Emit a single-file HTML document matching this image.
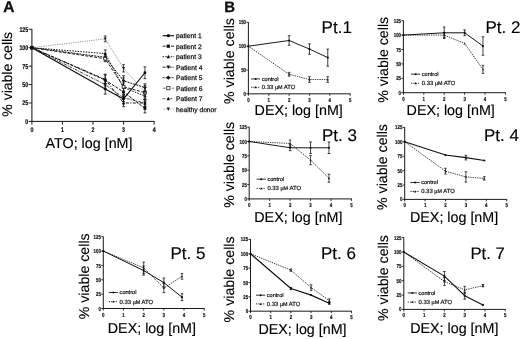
<!DOCTYPE html>
<html><head><meta charset="utf-8"><title>Figure</title>
<style>
html,body{margin:0;padding:0;background:#fff;}
body{width:520px;height:339px;overflow:hidden;font-family:"Liberation Sans",sans-serif;}
svg{display:block;}
</style></head><body>
<svg width="520" height="339" viewBox="0 0 520 339" font-family="Liberation Sans, sans-serif" text-rendering="geometricPrecision">
<rect width="520" height="339" fill="#fff"/>
<g filter="url(#b)">
<text x="3.30" y="12.10" font-size="15.5" text-anchor="start" font-weight="bold" fill="#111"  stroke="#111" stroke-width="0.3">A</text>
<line x1="31.90" y1="121.90" x2="31.90" y2="28.98" stroke="#111" stroke-width="1.0" />
<line x1="31.40" y1="121.40" x2="154.50" y2="121.40" stroke="#111" stroke-width="1.0" />
<line x1="28.60" y1="121.40" x2="31.90" y2="121.40" stroke="#111" stroke-width="0.9" />
<text x="28.25" y="123.85" font-size="6.8" text-anchor="end" font-weight="bold" fill="#111" textLength="2.95" lengthAdjust="spacingAndGlyphs" stroke="#111" stroke-width="0.2">0</text>
<line x1="28.60" y1="102.98" x2="31.90" y2="102.98" stroke="#111" stroke-width="0.9" />
<text x="28.25" y="105.42" font-size="6.8" text-anchor="end" font-weight="bold" fill="#111" textLength="5.90" lengthAdjust="spacingAndGlyphs" stroke="#111" stroke-width="0.2">25</text>
<line x1="28.60" y1="84.55" x2="31.90" y2="84.55" stroke="#111" stroke-width="0.9" />
<text x="28.25" y="87.00" font-size="6.8" text-anchor="end" font-weight="bold" fill="#111" textLength="5.90" lengthAdjust="spacingAndGlyphs" stroke="#111" stroke-width="0.2">50</text>
<line x1="28.60" y1="66.12" x2="31.90" y2="66.12" stroke="#111" stroke-width="0.9" />
<text x="28.25" y="68.57" font-size="6.8" text-anchor="end" font-weight="bold" fill="#111" textLength="5.90" lengthAdjust="spacingAndGlyphs" stroke="#111" stroke-width="0.2">75</text>
<line x1="28.60" y1="47.70" x2="31.90" y2="47.70" stroke="#111" stroke-width="0.9" />
<text x="28.25" y="50.15" font-size="6.8" text-anchor="end" font-weight="bold" fill="#111" textLength="8.85" lengthAdjust="spacingAndGlyphs" stroke="#111" stroke-width="0.2">100</text>
<line x1="28.60" y1="29.28" x2="31.90" y2="29.28" stroke="#111" stroke-width="0.9" />
<text x="28.25" y="31.72" font-size="6.8" text-anchor="end" font-weight="bold" fill="#111" textLength="8.85" lengthAdjust="spacingAndGlyphs" stroke="#111" stroke-width="0.2">125</text>
<line x1="31.90" y1="121.40" x2="31.90" y2="124.70" stroke="#111" stroke-width="0.9" />
<text x="31.90" y="131.80" font-size="6.8" text-anchor="middle" font-weight="bold" fill="#111" textLength="2.95" lengthAdjust="spacingAndGlyphs" stroke="#111" stroke-width="0.2">0</text>
<line x1="62.45" y1="121.40" x2="62.45" y2="124.70" stroke="#111" stroke-width="0.9" />
<text x="62.45" y="131.80" font-size="6.8" text-anchor="middle" font-weight="bold" fill="#111" textLength="2.95" lengthAdjust="spacingAndGlyphs" stroke="#111" stroke-width="0.2">1</text>
<line x1="93.00" y1="121.40" x2="93.00" y2="124.70" stroke="#111" stroke-width="0.9" />
<text x="93.00" y="131.80" font-size="6.8" text-anchor="middle" font-weight="bold" fill="#111" textLength="2.95" lengthAdjust="spacingAndGlyphs" stroke="#111" stroke-width="0.2">2</text>
<line x1="123.55" y1="121.40" x2="123.55" y2="124.70" stroke="#111" stroke-width="0.9" />
<text x="123.55" y="131.80" font-size="6.8" text-anchor="middle" font-weight="bold" fill="#111" textLength="2.95" lengthAdjust="spacingAndGlyphs" stroke="#111" stroke-width="0.2">3</text>
<line x1="154.10" y1="121.40" x2="154.10" y2="124.70" stroke="#111" stroke-width="0.9" />
<text x="154.10" y="131.80" font-size="6.8" text-anchor="middle" font-weight="bold" fill="#111" textLength="2.95" lengthAdjust="spacingAndGlyphs" stroke="#111" stroke-width="0.2">4</text>
<polyline points="31.90,47.70 105.22,88.97 123.55,98.92 144.94,72.76" fill="none" stroke="#111" stroke-width="1.1" stroke-linejoin="round"/>
<line x1="105.22" y1="83.81" x2="105.22" y2="94.13" stroke="#111" stroke-width="0.8" />
<line x1="103.82" y1="83.81" x2="106.62" y2="83.81" stroke="#111" stroke-width="0.8" />
<line x1="103.82" y1="94.13" x2="106.62" y2="94.13" stroke="#111" stroke-width="0.8" />
<line x1="123.55" y1="94.50" x2="123.55" y2="103.34" stroke="#111" stroke-width="0.8" />
<line x1="122.15" y1="94.50" x2="124.95" y2="94.50" stroke="#111" stroke-width="0.8" />
<line x1="122.15" y1="103.34" x2="124.95" y2="103.34" stroke="#111" stroke-width="0.8" />
<line x1="144.94" y1="66.86" x2="144.94" y2="78.65" stroke="#111" stroke-width="0.8" />
<line x1="143.53" y1="66.86" x2="146.34" y2="66.86" stroke="#111" stroke-width="0.8" />
<line x1="143.53" y1="78.65" x2="146.34" y2="78.65" stroke="#111" stroke-width="0.8" />
<circle cx="31.90" cy="47.70" r="1.4" fill="#111"/>
<circle cx="105.22" cy="88.97" r="1.4" fill="#111"/>
<circle cx="123.55" cy="98.92" r="1.4" fill="#111"/>
<circle cx="144.94" cy="72.76" r="1.4" fill="#111"/>
<line x1="162.60" y1="35.70" x2="174.00" y2="35.70" stroke="#111" stroke-width="1.1" />
<circle cx="168.30" cy="35.70" r="1.6" fill="#111"/>
<text x="176.00" y="38.00" font-size="6.7" text-anchor="start" font-weight="normal" fill="#111"  stroke="#111" stroke-width="0.25">patient 1</text>
<polyline points="31.90,47.70 105.22,80.13 123.55,91.92 144.94,108.43" fill="none" stroke="#111" stroke-width="1.0" stroke-dasharray="3 1.2" stroke-linejoin="round"/>
<line x1="105.22" y1="74.23" x2="105.22" y2="86.02" stroke="#111" stroke-width="0.8" />
<line x1="103.82" y1="74.23" x2="106.62" y2="74.23" stroke="#111" stroke-width="0.8" />
<line x1="103.82" y1="86.02" x2="106.62" y2="86.02" stroke="#111" stroke-width="0.8" />
<line x1="123.55" y1="87.50" x2="123.55" y2="96.34" stroke="#111" stroke-width="0.8" />
<line x1="122.15" y1="87.50" x2="124.95" y2="87.50" stroke="#111" stroke-width="0.8" />
<line x1="122.15" y1="96.34" x2="124.95" y2="96.34" stroke="#111" stroke-width="0.8" />
<line x1="144.94" y1="104.01" x2="144.94" y2="112.85" stroke="#111" stroke-width="0.8" />
<line x1="143.53" y1="104.01" x2="146.34" y2="104.01" stroke="#111" stroke-width="0.8" />
<line x1="143.53" y1="112.85" x2="146.34" y2="112.85" stroke="#111" stroke-width="0.8" />
<rect x="30.50" y="46.30" width="2.8" height="2.8" fill="#111"/>
<rect x="103.82" y="78.73" width="2.8" height="2.8" fill="#111"/>
<rect x="122.15" y="90.52" width="2.8" height="2.8" fill="#111"/>
<rect x="143.53" y="107.03" width="2.8" height="2.8" fill="#111"/>
<line x1="162.60" y1="46.20" x2="174.00" y2="46.20" stroke="#111" stroke-width="0.9" stroke-dasharray="3 1.2" />
<rect x="166.70" y="44.60" width="3.2" height="3.2" fill="#111"/>
<text x="176.00" y="48.50" font-size="6.7" text-anchor="start" font-weight="normal" fill="#111"  stroke="#111" stroke-width="0.25">patient 2</text>
<polyline points="31.90,47.70 105.22,53.60 123.55,87.50 144.94,96.05" fill="none" stroke="#111" stroke-width="1.0" stroke-dasharray="1.5 1.2" stroke-linejoin="round"/>
<line x1="105.22" y1="49.91" x2="105.22" y2="57.28" stroke="#111" stroke-width="0.8" />
<line x1="103.82" y1="49.91" x2="106.62" y2="49.91" stroke="#111" stroke-width="0.8" />
<line x1="103.82" y1="57.28" x2="106.62" y2="57.28" stroke="#111" stroke-width="0.8" />
<line x1="123.55" y1="83.08" x2="123.55" y2="91.92" stroke="#111" stroke-width="0.8" />
<line x1="122.15" y1="83.08" x2="124.95" y2="83.08" stroke="#111" stroke-width="0.8" />
<line x1="122.15" y1="91.92" x2="124.95" y2="91.92" stroke="#111" stroke-width="0.8" />
<line x1="144.94" y1="92.36" x2="144.94" y2="99.73" stroke="#111" stroke-width="0.8" />
<line x1="143.53" y1="92.36" x2="146.34" y2="92.36" stroke="#111" stroke-width="0.8" />
<line x1="143.53" y1="99.73" x2="146.34" y2="99.73" stroke="#111" stroke-width="0.8" />
<polygon points="31.90,46.02 30.36,49.10 33.44,49.10" fill="#111"/>
<polygon points="105.22,51.92 103.68,55.00 106.76,55.00" fill="#111"/>
<polygon points="123.55,85.82 122.01,88.90 125.09,88.90" fill="#111"/>
<polygon points="144.94,94.37 143.40,97.45 146.47,97.45" fill="#111"/>
<line x1="162.60" y1="56.70" x2="174.00" y2="56.70" stroke="#111" stroke-width="0.9" stroke-dasharray="1.5 1.2" />
<polygon points="168.30,54.78 166.54,58.30 170.06,58.30" fill="#111"/>
<text x="176.00" y="59.00" font-size="6.7" text-anchor="start" font-weight="normal" fill="#111"  stroke="#111" stroke-width="0.25">patient 3</text>
<polyline points="31.90,47.70 105.22,84.55 123.55,97.82 144.94,102.98" fill="none" stroke="#111" stroke-width="0.8" stroke-dasharray="3 1 1 1" stroke-linejoin="round"/>
<line x1="105.22" y1="80.13" x2="105.22" y2="88.97" stroke="#111" stroke-width="0.8" />
<line x1="103.82" y1="80.13" x2="106.62" y2="80.13" stroke="#111" stroke-width="0.8" />
<line x1="103.82" y1="88.97" x2="106.62" y2="88.97" stroke="#111" stroke-width="0.8" />
<line x1="123.55" y1="94.13" x2="123.55" y2="101.50" stroke="#111" stroke-width="0.8" />
<line x1="122.15" y1="94.13" x2="124.95" y2="94.13" stroke="#111" stroke-width="0.8" />
<line x1="122.15" y1="101.50" x2="124.95" y2="101.50" stroke="#111" stroke-width="0.8" />
<line x1="144.94" y1="99.29" x2="144.94" y2="106.66" stroke="#111" stroke-width="0.8" />
<line x1="143.53" y1="99.29" x2="146.34" y2="99.29" stroke="#111" stroke-width="0.8" />
<line x1="143.53" y1="106.66" x2="146.34" y2="106.66" stroke="#111" stroke-width="0.8" />
<polygon points="31.90,49.38 30.36,46.30 33.44,46.30" fill="#111"/>
<polygon points="105.22,86.23 103.68,83.15 106.76,83.15" fill="#111"/>
<polygon points="123.55,99.50 122.01,96.42 125.09,96.42" fill="#111"/>
<polygon points="144.94,104.66 143.40,101.58 146.47,101.58" fill="#111"/>
<line x1="162.60" y1="67.20" x2="174.00" y2="67.20" stroke="#111" stroke-width="0.9" stroke-dasharray="3 1 1 1" />
<polygon points="168.30,69.12 166.54,65.60 170.06,65.60" fill="#111"/>
<text x="176.00" y="69.50" font-size="6.7" text-anchor="start" font-weight="normal" fill="#111"  stroke="#111" stroke-width="0.25">Patient 4</text>
<polyline points="31.90,47.70 105.22,57.28 123.55,80.87 144.94,87.50" fill="none" stroke="#111" stroke-width="1.0" stroke-dasharray="2 1" stroke-linejoin="round"/>
<line x1="105.22" y1="53.60" x2="105.22" y2="60.97" stroke="#111" stroke-width="0.8" />
<line x1="103.82" y1="53.60" x2="106.62" y2="53.60" stroke="#111" stroke-width="0.8" />
<line x1="103.82" y1="60.97" x2="106.62" y2="60.97" stroke="#111" stroke-width="0.8" />
<line x1="123.55" y1="75.71" x2="123.55" y2="86.02" stroke="#111" stroke-width="0.8" />
<line x1="122.15" y1="75.71" x2="124.95" y2="75.71" stroke="#111" stroke-width="0.8" />
<line x1="122.15" y1="86.02" x2="124.95" y2="86.02" stroke="#111" stroke-width="0.8" />
<line x1="144.94" y1="83.81" x2="144.94" y2="91.18" stroke="#111" stroke-width="0.8" />
<line x1="143.53" y1="83.81" x2="146.34" y2="83.81" stroke="#111" stroke-width="0.8" />
<line x1="143.53" y1="91.18" x2="146.34" y2="91.18" stroke="#111" stroke-width="0.8" />
<polygon points="31.90,45.88 30.08,47.70 31.90,49.52 33.72,47.70" fill="#111"/>
<polygon points="105.22,55.46 103.40,57.28 105.22,59.10 107.04,57.28" fill="#111"/>
<polygon points="123.55,79.05 121.73,80.87 123.55,82.69 125.37,80.87" fill="#111"/>
<polygon points="144.94,85.68 143.12,87.50 144.94,89.32 146.75,87.50" fill="#111"/>
<line x1="162.60" y1="77.70" x2="174.00" y2="77.70" stroke="#111" stroke-width="0.9" stroke-dasharray="2 1" />
<polygon points="168.30,75.62 166.22,77.70 168.30,79.78 170.38,77.70" fill="#111"/>
<text x="176.00" y="80.00" font-size="6.7" text-anchor="start" font-weight="normal" fill="#111"  stroke="#111" stroke-width="0.25">Patient 5</text>
<polyline points="31.90,47.70 105.22,58.76 123.55,86.76 144.94,92.66" fill="none" stroke="#222" stroke-width="1.0" stroke-dasharray="3 1.5" stroke-linejoin="round"/>
<line x1="105.22" y1="55.81" x2="105.22" y2="61.70" stroke="#222" stroke-width="0.8" />
<line x1="103.82" y1="55.81" x2="106.62" y2="55.81" stroke="#222" stroke-width="0.8" />
<line x1="103.82" y1="61.70" x2="106.62" y2="61.70" stroke="#222" stroke-width="0.8" />
<line x1="123.55" y1="77.92" x2="123.55" y2="95.60" stroke="#222" stroke-width="0.8" />
<line x1="122.15" y1="77.92" x2="124.95" y2="77.92" stroke="#222" stroke-width="0.8" />
<line x1="122.15" y1="95.60" x2="124.95" y2="95.60" stroke="#222" stroke-width="0.8" />
<line x1="144.94" y1="85.29" x2="144.94" y2="100.03" stroke="#222" stroke-width="0.8" />
<line x1="143.53" y1="85.29" x2="146.34" y2="85.29" stroke="#222" stroke-width="0.8" />
<line x1="143.53" y1="100.03" x2="146.34" y2="100.03" stroke="#222" stroke-width="0.8" />
<rect x="30.50" y="46.30" width="2.8" height="2.8" fill="#fff" stroke="#222" stroke-width="0.8"/>
<rect x="103.82" y="57.36" width="2.8" height="2.8" fill="#fff" stroke="#222" stroke-width="0.8"/>
<rect x="122.15" y="85.36" width="2.8" height="2.8" fill="#fff" stroke="#222" stroke-width="0.8"/>
<rect x="143.53" y="91.26" width="2.8" height="2.8" fill="#fff" stroke="#222" stroke-width="0.8"/>
<line x1="162.60" y1="88.20" x2="174.00" y2="88.20" stroke="#222" stroke-width="0.6" stroke-dasharray="3 1.5" />
<rect x="166.70" y="86.60" width="3.2" height="3.2" fill="#fff" stroke="#222" stroke-width="0.8"/>
<text x="176.00" y="90.50" font-size="6.7" text-anchor="start" font-weight="normal" fill="#111"  stroke="#111" stroke-width="0.25">Patient 6</text>
<polyline points="31.90,47.70 105.22,79.39 123.55,102.98 144.94,102.98" fill="none" stroke="#111" stroke-width="1.0" stroke-dasharray="3 1.5 1 1.5" stroke-linejoin="round"/>
<line x1="105.22" y1="74.97" x2="105.22" y2="83.81" stroke="#111" stroke-width="0.8" />
<line x1="103.82" y1="74.97" x2="106.62" y2="74.97" stroke="#111" stroke-width="0.8" />
<line x1="103.82" y1="83.81" x2="106.62" y2="83.81" stroke="#111" stroke-width="0.8" />
<line x1="123.55" y1="99.29" x2="123.55" y2="106.66" stroke="#111" stroke-width="0.8" />
<line x1="122.15" y1="99.29" x2="124.95" y2="99.29" stroke="#111" stroke-width="0.8" />
<line x1="122.15" y1="106.66" x2="124.95" y2="106.66" stroke="#111" stroke-width="0.8" />
<line x1="144.94" y1="99.29" x2="144.94" y2="106.66" stroke="#111" stroke-width="0.8" />
<line x1="143.53" y1="99.29" x2="146.34" y2="99.29" stroke="#111" stroke-width="0.8" />
<line x1="143.53" y1="106.66" x2="146.34" y2="106.66" stroke="#111" stroke-width="0.8" />
<polygon points="31.90,46.02 30.36,49.10 33.44,49.10" fill="#111"/>
<polygon points="105.22,77.71 103.68,80.79 106.76,80.79" fill="#111"/>
<polygon points="123.55,101.30 122.01,104.38 125.09,104.38" fill="#111"/>
<polygon points="144.94,101.30 143.40,104.38 146.47,104.38" fill="#111"/>
<line x1="162.60" y1="98.70" x2="174.00" y2="98.70" stroke="#111" stroke-width="0.6" stroke-dasharray="3 1.5 1 1.5" />
<polygon points="168.30,96.78 166.54,100.30 170.06,100.30" fill="#111"/>
<text x="176.00" y="101.00" font-size="6.7" text-anchor="start" font-weight="normal" fill="#111"  stroke="#111" stroke-width="0.25">Patient 7</text>
<polyline points="31.90,47.70 105.22,38.86 123.55,68.34 144.94,91.92" fill="none" stroke="#666" stroke-width="0.8" stroke-dasharray="0.8 1" stroke-linejoin="round"/>
<line x1="105.22" y1="35.91" x2="105.22" y2="41.80" stroke="#222" stroke-width="0.8" />
<line x1="103.82" y1="35.91" x2="106.62" y2="35.91" stroke="#222" stroke-width="0.8" />
<line x1="103.82" y1="41.80" x2="106.62" y2="41.80" stroke="#222" stroke-width="0.8" />
<line x1="123.55" y1="64.65" x2="123.55" y2="72.02" stroke="#222" stroke-width="0.8" />
<line x1="122.15" y1="64.65" x2="124.95" y2="64.65" stroke="#222" stroke-width="0.8" />
<line x1="122.15" y1="72.02" x2="124.95" y2="72.02" stroke="#222" stroke-width="0.8" />
<line x1="144.94" y1="87.50" x2="144.94" y2="96.34" stroke="#222" stroke-width="0.8" />
<line x1="143.53" y1="87.50" x2="146.34" y2="87.50" stroke="#222" stroke-width="0.8" />
<line x1="143.53" y1="96.34" x2="146.34" y2="96.34" stroke="#222" stroke-width="0.8" />
<polygon points="31.90,49.38 30.36,46.30 33.44,46.30" fill="#222"/>
<polygon points="105.22,40.54 103.68,37.46 106.76,37.46" fill="#222"/>
<polygon points="123.55,70.02 122.01,66.94 125.09,66.94" fill="#222"/>
<polygon points="144.94,93.60 143.40,90.52 146.47,90.52" fill="#222"/>
<line x1="162.60" y1="109.20" x2="174.00" y2="109.20" stroke="#666" stroke-width="0.6" stroke-dasharray="0.8 1" />
<polygon points="168.30,111.12 166.54,107.60 170.06,107.60" fill="#222"/>
<text x="176.00" y="111.50" font-size="6.7" text-anchor="start" font-weight="normal" fill="#111"  stroke="#111" stroke-width="0.25">healthy donor</text>
<circle cx="31.90" cy="47.70" r="1.9" fill="#111"/>
<text x="12.50" y="116.70" font-size="14" text-anchor="start" font-weight="normal" fill="#000" transform="rotate(-90 12.50 116.70)"  stroke="#000" stroke-width="0.12">% viable cells</text>
<text x="45.60" y="148.00" font-size="14.3" text-anchor="start" font-weight="normal" fill="#000"  stroke="#000" stroke-width="0.15">ATO; log [nM]</text>
<text x="224.20" y="12.00" font-size="15" text-anchor="start" font-weight="bold" fill="#111"  stroke="#111" stroke-width="0.3">B</text>
<line x1="248.40" y1="94.30" x2="248.40" y2="22.10" stroke="#111" stroke-width="0.95" />
<line x1="247.90" y1="93.80" x2="350.55" y2="93.80" stroke="#111" stroke-width="0.95" />
<line x1="246.40" y1="93.80" x2="248.40" y2="93.80" stroke="#111" stroke-width="0.855" />
<text x="246.05" y="95.89" font-size="5.8" text-anchor="end" font-weight="bold" fill="#111" textLength="2.45" lengthAdjust="spacingAndGlyphs" stroke="#111" stroke-width="0.2">0</text>
<line x1="246.40" y1="70.00" x2="248.40" y2="70.00" stroke="#111" stroke-width="0.855" />
<text x="246.05" y="72.09" font-size="5.8" text-anchor="end" font-weight="bold" fill="#111" textLength="4.90" lengthAdjust="spacingAndGlyphs" stroke="#111" stroke-width="0.2">50</text>
<line x1="246.40" y1="46.20" x2="248.40" y2="46.20" stroke="#111" stroke-width="0.855" />
<text x="246.05" y="48.29" font-size="5.8" text-anchor="end" font-weight="bold" fill="#111" textLength="7.35" lengthAdjust="spacingAndGlyphs" stroke="#111" stroke-width="0.2">100</text>
<line x1="246.40" y1="22.40" x2="248.40" y2="22.40" stroke="#111" stroke-width="0.855" />
<text x="246.05" y="24.49" font-size="5.8" text-anchor="end" font-weight="bold" fill="#111" textLength="7.35" lengthAdjust="spacingAndGlyphs" stroke="#111" stroke-width="0.2">150</text>
<line x1="248.40" y1="93.80" x2="248.40" y2="95.80" stroke="#111" stroke-width="0.855" />
<text x="248.40" y="101.80" font-size="5.8" text-anchor="middle" font-weight="bold" fill="#111" textLength="2.45" lengthAdjust="spacingAndGlyphs" stroke="#111" stroke-width="0.2">0</text>
<line x1="268.75" y1="93.80" x2="268.75" y2="95.80" stroke="#111" stroke-width="0.855" />
<text x="268.75" y="101.80" font-size="5.8" text-anchor="middle" font-weight="bold" fill="#111" textLength="2.45" lengthAdjust="spacingAndGlyphs" stroke="#111" stroke-width="0.2">1</text>
<line x1="289.10" y1="93.80" x2="289.10" y2="95.80" stroke="#111" stroke-width="0.855" />
<text x="289.10" y="101.80" font-size="5.8" text-anchor="middle" font-weight="bold" fill="#111" textLength="2.45" lengthAdjust="spacingAndGlyphs" stroke="#111" stroke-width="0.2">2</text>
<line x1="309.45" y1="93.80" x2="309.45" y2="95.80" stroke="#111" stroke-width="0.855" />
<text x="309.45" y="101.80" font-size="5.8" text-anchor="middle" font-weight="bold" fill="#111" textLength="2.45" lengthAdjust="spacingAndGlyphs" stroke="#111" stroke-width="0.2">3</text>
<line x1="329.80" y1="93.80" x2="329.80" y2="95.80" stroke="#111" stroke-width="0.855" />
<text x="329.80" y="101.80" font-size="5.8" text-anchor="middle" font-weight="bold" fill="#111" textLength="2.45" lengthAdjust="spacingAndGlyphs" stroke="#111" stroke-width="0.2">4</text>
<line x1="350.15" y1="93.80" x2="350.15" y2="95.80" stroke="#111" stroke-width="0.855" />
<text x="350.15" y="101.80" font-size="5.8" text-anchor="middle" font-weight="bold" fill="#111" textLength="2.45" lengthAdjust="spacingAndGlyphs" stroke="#111" stroke-width="0.2">5</text>
<polyline points="248.40,46.20 289.10,74.28 309.45,79.52 327.76,79.52" fill="none" stroke="#222" stroke-width="0.9" stroke-dasharray="1.3 1" stroke-linejoin="round"/>
<line x1="289.10" y1="72.38" x2="289.10" y2="76.19" stroke="#222" stroke-width="0.8" />
<line x1="287.80" y1="72.38" x2="290.40" y2="72.38" stroke="#222" stroke-width="0.8" />
<line x1="287.80" y1="76.19" x2="290.40" y2="76.19" stroke="#222" stroke-width="0.8" />
<line x1="309.45" y1="76.66" x2="309.45" y2="82.38" stroke="#222" stroke-width="0.8" />
<line x1="308.15" y1="76.66" x2="310.75" y2="76.66" stroke="#222" stroke-width="0.8" />
<line x1="308.15" y1="82.38" x2="310.75" y2="82.38" stroke="#222" stroke-width="0.8" />
<line x1="327.76" y1="76.66" x2="327.76" y2="82.38" stroke="#222" stroke-width="0.8" />
<line x1="326.46" y1="76.66" x2="329.06" y2="76.66" stroke="#222" stroke-width="0.8" />
<line x1="326.46" y1="82.38" x2="329.06" y2="82.38" stroke="#222" stroke-width="0.8" />
<polygon points="248.40,45.00 247.30,47.20 249.50,47.20" fill="#222"/>
<polygon points="289.10,73.08 288.00,75.28 290.20,75.28" fill="#222"/>
<polygon points="309.45,78.32 308.35,80.52 310.55,80.52" fill="#222"/>
<polygon points="327.76,78.32 326.66,80.52 328.87,80.52" fill="#222"/>
<polyline points="248.40,46.20 289.10,40.49 309.45,49.06 327.76,57.62" fill="none" stroke="#111" stroke-width="0.95" stroke-linejoin="round"/>
<line x1="289.10" y1="35.73" x2="289.10" y2="45.25" stroke="#111" stroke-width="0.8" />
<line x1="287.80" y1="35.73" x2="290.40" y2="35.73" stroke="#111" stroke-width="0.8" />
<line x1="287.80" y1="45.25" x2="290.40" y2="45.25" stroke="#111" stroke-width="0.8" />
<line x1="309.45" y1="43.82" x2="309.45" y2="54.29" stroke="#111" stroke-width="0.8" />
<line x1="308.15" y1="43.82" x2="310.75" y2="43.82" stroke="#111" stroke-width="0.8" />
<line x1="308.15" y1="54.29" x2="310.75" y2="54.29" stroke="#111" stroke-width="0.8" />
<line x1="327.76" y1="49.06" x2="327.76" y2="66.19" stroke="#111" stroke-width="0.8" />
<line x1="326.46" y1="49.06" x2="329.06" y2="49.06" stroke="#111" stroke-width="0.8" />
<line x1="326.46" y1="66.19" x2="329.06" y2="66.19" stroke="#111" stroke-width="0.8" />
<circle cx="248.40" cy="46.20" r="1.1" fill="#111"/>
<circle cx="289.10" cy="40.49" r="1.1" fill="#111"/>
<circle cx="309.45" cy="49.06" r="1.1" fill="#111"/>
<circle cx="327.76" cy="57.62" r="1.1" fill="#111"/>
<text x="321.60" y="33.00" font-size="17" text-anchor="start" font-weight="normal" fill="#000"  stroke="#000" stroke-width="0.15">Pt.1</text>
<line x1="251.00" y1="78.90" x2="260.20" y2="78.90" stroke="#111" stroke-width="0.85" />
<circle cx="255.60" cy="78.90" r="1.0" fill="#111"/>
<text x="261.80" y="80.80" font-size="5.6" text-anchor="start" font-weight="normal" fill="#111"  stroke="#111" stroke-width="0.2">control</text>
<line x1="251.00" y1="87.30" x2="260.20" y2="87.30" stroke="#222" stroke-width="0.9" stroke-dasharray="1.3 1" />
<polygon points="255.60,86.10 254.50,88.30 256.70,88.30" fill="#111"/>
<text x="261.80" y="89.20" font-size="5.9" text-anchor="start" font-weight="normal" fill="#111"  stroke="#111" stroke-width="0.2">0.33 <tspan font-size="5.4">µM</tspan> ATO</text>
<text x="233.50" y="104.00" font-size="14.2" text-anchor="start" font-weight="normal" fill="#000" transform="rotate(-90 233.50 104.00)"  stroke="#000" stroke-width="0.12">% viable cells</text>
<text x="254.60" y="114.80" font-size="14.3" text-anchor="start" font-weight="normal" fill="#000"  stroke="#000" stroke-width="0.15">DEX; log [nM]</text>
<line x1="403.40" y1="93.20" x2="403.40" y2="20.40" stroke="#111" stroke-width="0.95" />
<line x1="402.90" y1="92.70" x2="505.80" y2="92.70" stroke="#111" stroke-width="0.95" />
<line x1="401.40" y1="92.70" x2="403.40" y2="92.70" stroke="#111" stroke-width="0.855" />
<text x="401.05" y="94.79" font-size="5.8" text-anchor="end" font-weight="bold" fill="#111" textLength="2.45" lengthAdjust="spacingAndGlyphs" stroke="#111" stroke-width="0.2">0</text>
<line x1="401.40" y1="78.30" x2="403.40" y2="78.30" stroke="#111" stroke-width="0.855" />
<text x="401.05" y="80.39" font-size="5.8" text-anchor="end" font-weight="bold" fill="#111" textLength="4.90" lengthAdjust="spacingAndGlyphs" stroke="#111" stroke-width="0.2">25</text>
<line x1="401.40" y1="63.90" x2="403.40" y2="63.90" stroke="#111" stroke-width="0.855" />
<text x="401.05" y="65.99" font-size="5.8" text-anchor="end" font-weight="bold" fill="#111" textLength="4.90" lengthAdjust="spacingAndGlyphs" stroke="#111" stroke-width="0.2">50</text>
<line x1="401.40" y1="49.50" x2="403.40" y2="49.50" stroke="#111" stroke-width="0.855" />
<text x="401.05" y="51.59" font-size="5.8" text-anchor="end" font-weight="bold" fill="#111" textLength="4.90" lengthAdjust="spacingAndGlyphs" stroke="#111" stroke-width="0.2">75</text>
<line x1="401.40" y1="35.10" x2="403.40" y2="35.10" stroke="#111" stroke-width="0.855" />
<text x="401.05" y="37.19" font-size="5.8" text-anchor="end" font-weight="bold" fill="#111" textLength="7.35" lengthAdjust="spacingAndGlyphs" stroke="#111" stroke-width="0.2">100</text>
<line x1="401.40" y1="20.70" x2="403.40" y2="20.70" stroke="#111" stroke-width="0.855" />
<text x="401.05" y="22.79" font-size="5.8" text-anchor="end" font-weight="bold" fill="#111" textLength="7.35" lengthAdjust="spacingAndGlyphs" stroke="#111" stroke-width="0.2">125</text>
<line x1="403.40" y1="92.70" x2="403.40" y2="94.70" stroke="#111" stroke-width="0.855" />
<text x="403.40" y="100.70" font-size="5.8" text-anchor="middle" font-weight="bold" fill="#111" textLength="2.45" lengthAdjust="spacingAndGlyphs" stroke="#111" stroke-width="0.2">0</text>
<line x1="423.80" y1="92.70" x2="423.80" y2="94.70" stroke="#111" stroke-width="0.855" />
<text x="423.80" y="100.70" font-size="5.8" text-anchor="middle" font-weight="bold" fill="#111" textLength="2.45" lengthAdjust="spacingAndGlyphs" stroke="#111" stroke-width="0.2">1</text>
<line x1="444.20" y1="92.70" x2="444.20" y2="94.70" stroke="#111" stroke-width="0.855" />
<text x="444.20" y="100.70" font-size="5.8" text-anchor="middle" font-weight="bold" fill="#111" textLength="2.45" lengthAdjust="spacingAndGlyphs" stroke="#111" stroke-width="0.2">2</text>
<line x1="464.60" y1="92.70" x2="464.60" y2="94.70" stroke="#111" stroke-width="0.855" />
<text x="464.60" y="100.70" font-size="5.8" text-anchor="middle" font-weight="bold" fill="#111" textLength="2.45" lengthAdjust="spacingAndGlyphs" stroke="#111" stroke-width="0.2">3</text>
<line x1="485.00" y1="92.70" x2="485.00" y2="94.70" stroke="#111" stroke-width="0.855" />
<text x="485.00" y="100.70" font-size="5.8" text-anchor="middle" font-weight="bold" fill="#111" textLength="2.45" lengthAdjust="spacingAndGlyphs" stroke="#111" stroke-width="0.2">4</text>
<line x1="505.40" y1="92.70" x2="505.40" y2="94.70" stroke="#111" stroke-width="0.855" />
<text x="505.40" y="100.70" font-size="5.8" text-anchor="middle" font-weight="bold" fill="#111" textLength="2.45" lengthAdjust="spacingAndGlyphs" stroke="#111" stroke-width="0.2">5</text>
<polyline points="403.40,35.10 444.20,35.10 464.60,43.45 482.96,69.37" fill="none" stroke="#222" stroke-width="0.9" stroke-dasharray="1.3 1" stroke-linejoin="round"/>
<line x1="444.20" y1="32.80" x2="444.20" y2="37.40" stroke="#222" stroke-width="0.8" />
<line x1="442.90" y1="32.80" x2="445.50" y2="32.80" stroke="#222" stroke-width="0.8" />
<line x1="442.90" y1="37.40" x2="445.50" y2="37.40" stroke="#222" stroke-width="0.8" />
<line x1="482.96" y1="65.34" x2="482.96" y2="73.40" stroke="#222" stroke-width="0.8" />
<line x1="481.66" y1="65.34" x2="484.26" y2="65.34" stroke="#222" stroke-width="0.8" />
<line x1="481.66" y1="73.40" x2="484.26" y2="73.40" stroke="#222" stroke-width="0.8" />
<polygon points="403.40,33.90 402.30,36.10 404.50,36.10" fill="#222"/>
<polygon points="444.20,33.90 443.10,36.10 445.30,36.10" fill="#222"/>
<polygon points="464.60,42.25 463.50,44.45 465.70,44.45" fill="#222"/>
<polygon points="482.96,68.17 481.86,70.37 484.06,70.37" fill="#222"/>
<polyline points="403.40,35.10 444.20,32.80 464.60,32.80 482.96,46.04" fill="none" stroke="#111" stroke-width="1.0" stroke-linejoin="round"/>
<line x1="444.20" y1="27.04" x2="444.20" y2="38.56" stroke="#111" stroke-width="0.8" />
<line x1="442.90" y1="27.04" x2="445.50" y2="27.04" stroke="#111" stroke-width="0.8" />
<line x1="442.90" y1="38.56" x2="445.50" y2="38.56" stroke="#111" stroke-width="0.8" />
<line x1="464.60" y1="29.92" x2="464.60" y2="35.68" stroke="#111" stroke-width="0.8" />
<line x1="463.30" y1="29.92" x2="465.90" y2="29.92" stroke="#111" stroke-width="0.8" />
<line x1="463.30" y1="35.68" x2="465.90" y2="35.68" stroke="#111" stroke-width="0.8" />
<line x1="482.96" y1="36.83" x2="482.96" y2="55.26" stroke="#111" stroke-width="0.8" />
<line x1="481.66" y1="36.83" x2="484.26" y2="36.83" stroke="#111" stroke-width="0.8" />
<line x1="481.66" y1="55.26" x2="484.26" y2="55.26" stroke="#111" stroke-width="0.8" />
<circle cx="403.40" cy="35.10" r="1.1" fill="#111"/>
<circle cx="444.20" cy="32.80" r="1.1" fill="#111"/>
<circle cx="464.60" cy="32.80" r="1.1" fill="#111"/>
<circle cx="482.96" cy="46.04" r="1.1" fill="#111"/>
<text x="485.40" y="32.90" font-size="17" text-anchor="start" font-weight="normal" fill="#000"  stroke="#000" stroke-width="0.15">Pt. 2</text>
<line x1="411.00" y1="74.20" x2="420.20" y2="74.20" stroke="#111" stroke-width="0.85" />
<circle cx="415.60" cy="74.20" r="1.0" fill="#111"/>
<text x="421.80" y="76.10" font-size="5.6" text-anchor="start" font-weight="normal" fill="#111"  stroke="#111" stroke-width="0.2">control</text>
<line x1="411.00" y1="83.30" x2="420.20" y2="83.30" stroke="#222" stroke-width="0.9" stroke-dasharray="1.3 1" />
<polygon points="415.60,82.10 414.50,84.30 416.70,84.30" fill="#111"/>
<text x="421.80" y="85.20" font-size="5.9" text-anchor="start" font-weight="normal" fill="#111"  stroke="#111" stroke-width="0.2">0.33 <tspan font-size="5.4">µM</tspan> ATO</text>
<text x="387.90" y="102.80" font-size="14.2" text-anchor="start" font-weight="normal" fill="#000" transform="rotate(-90 387.90 102.80)"  stroke="#000" stroke-width="0.12">% viable cells</text>
<text x="406.60" y="114.50" font-size="14.3" text-anchor="start" font-weight="normal" fill="#000"  stroke="#000" stroke-width="0.15">DEX; log [nM]</text>
<line x1="249.20" y1="199.40" x2="249.20" y2="126.79" stroke="#111" stroke-width="0.95" />
<line x1="248.70" y1="198.90" x2="351.85" y2="198.90" stroke="#111" stroke-width="0.95" />
<line x1="247.20" y1="198.90" x2="249.20" y2="198.90" stroke="#111" stroke-width="0.855" />
<text x="246.85" y="200.99" font-size="5.8" text-anchor="end" font-weight="bold" fill="#111" textLength="2.45" lengthAdjust="spacingAndGlyphs" stroke="#111" stroke-width="0.2">0</text>
<line x1="247.20" y1="184.54" x2="249.20" y2="184.54" stroke="#111" stroke-width="0.855" />
<text x="246.85" y="186.63" font-size="5.8" text-anchor="end" font-weight="bold" fill="#111" textLength="4.90" lengthAdjust="spacingAndGlyphs" stroke="#111" stroke-width="0.2">25</text>
<line x1="247.20" y1="170.18" x2="249.20" y2="170.18" stroke="#111" stroke-width="0.855" />
<text x="246.85" y="172.26" font-size="5.8" text-anchor="end" font-weight="bold" fill="#111" textLength="4.90" lengthAdjust="spacingAndGlyphs" stroke="#111" stroke-width="0.2">50</text>
<line x1="247.20" y1="155.81" x2="249.20" y2="155.81" stroke="#111" stroke-width="0.855" />
<text x="246.85" y="157.90" font-size="5.8" text-anchor="end" font-weight="bold" fill="#111" textLength="4.90" lengthAdjust="spacingAndGlyphs" stroke="#111" stroke-width="0.2">75</text>
<line x1="247.20" y1="141.45" x2="249.20" y2="141.45" stroke="#111" stroke-width="0.855" />
<text x="246.85" y="143.54" font-size="5.8" text-anchor="end" font-weight="bold" fill="#111" textLength="7.35" lengthAdjust="spacingAndGlyphs" stroke="#111" stroke-width="0.2">100</text>
<line x1="247.20" y1="127.09" x2="249.20" y2="127.09" stroke="#111" stroke-width="0.855" />
<text x="246.85" y="129.18" font-size="5.8" text-anchor="end" font-weight="bold" fill="#111" textLength="7.35" lengthAdjust="spacingAndGlyphs" stroke="#111" stroke-width="0.2">125</text>
<line x1="249.20" y1="198.90" x2="249.20" y2="200.90" stroke="#111" stroke-width="0.855" />
<text x="249.20" y="206.90" font-size="5.8" text-anchor="middle" font-weight="bold" fill="#111" textLength="2.45" lengthAdjust="spacingAndGlyphs" stroke="#111" stroke-width="0.2">0</text>
<line x1="269.65" y1="198.90" x2="269.65" y2="200.90" stroke="#111" stroke-width="0.855" />
<text x="269.65" y="206.90" font-size="5.8" text-anchor="middle" font-weight="bold" fill="#111" textLength="2.45" lengthAdjust="spacingAndGlyphs" stroke="#111" stroke-width="0.2">1</text>
<line x1="290.10" y1="198.90" x2="290.10" y2="200.90" stroke="#111" stroke-width="0.855" />
<text x="290.10" y="206.90" font-size="5.8" text-anchor="middle" font-weight="bold" fill="#111" textLength="2.45" lengthAdjust="spacingAndGlyphs" stroke="#111" stroke-width="0.2">2</text>
<line x1="310.55" y1="198.90" x2="310.55" y2="200.90" stroke="#111" stroke-width="0.855" />
<text x="310.55" y="206.90" font-size="5.8" text-anchor="middle" font-weight="bold" fill="#111" textLength="2.45" lengthAdjust="spacingAndGlyphs" stroke="#111" stroke-width="0.2">3</text>
<line x1="331.00" y1="198.90" x2="331.00" y2="200.90" stroke="#111" stroke-width="0.855" />
<text x="331.00" y="206.90" font-size="5.8" text-anchor="middle" font-weight="bold" fill="#111" textLength="2.45" lengthAdjust="spacingAndGlyphs" stroke="#111" stroke-width="0.2">4</text>
<line x1="351.45" y1="198.90" x2="351.45" y2="200.90" stroke="#111" stroke-width="0.855" />
<text x="351.45" y="206.90" font-size="5.8" text-anchor="middle" font-weight="bold" fill="#111" textLength="2.45" lengthAdjust="spacingAndGlyphs" stroke="#111" stroke-width="0.2">5</text>
<polyline points="249.20,141.45 290.10,143.46 310.55,160.12 328.95,178.22" fill="none" stroke="#222" stroke-width="0.9" stroke-dasharray="1.3 1" stroke-linejoin="round"/>
<line x1="290.10" y1="140.01" x2="290.10" y2="146.91" stroke="#222" stroke-width="0.8" />
<line x1="288.80" y1="140.01" x2="291.40" y2="140.01" stroke="#222" stroke-width="0.8" />
<line x1="288.80" y1="146.91" x2="291.40" y2="146.91" stroke="#222" stroke-width="0.8" />
<line x1="310.55" y1="155.53" x2="310.55" y2="164.72" stroke="#222" stroke-width="0.8" />
<line x1="309.25" y1="155.53" x2="311.85" y2="155.53" stroke="#222" stroke-width="0.8" />
<line x1="309.25" y1="164.72" x2="311.85" y2="164.72" stroke="#222" stroke-width="0.8" />
<line x1="328.95" y1="174.20" x2="328.95" y2="182.24" stroke="#222" stroke-width="0.8" />
<line x1="327.65" y1="174.20" x2="330.25" y2="174.20" stroke="#222" stroke-width="0.8" />
<line x1="327.65" y1="182.24" x2="330.25" y2="182.24" stroke="#222" stroke-width="0.8" />
<polygon points="249.20,140.25 248.10,142.45 250.30,142.45" fill="#222"/>
<polygon points="290.10,142.26 289.00,144.46 291.20,144.46" fill="#222"/>
<polygon points="310.55,158.92 309.45,161.12 311.65,161.12" fill="#222"/>
<polygon points="328.95,177.02 327.85,179.22 330.06,179.22" fill="#222"/>
<polyline points="249.20,141.45 290.10,147.77 310.55,147.77 328.95,147.77" fill="none" stroke="#111" stroke-width="0.95" stroke-linejoin="round"/>
<line x1="290.10" y1="144.90" x2="290.10" y2="150.64" stroke="#111" stroke-width="0.8" />
<line x1="288.80" y1="144.90" x2="291.40" y2="144.90" stroke="#111" stroke-width="0.8" />
<line x1="288.80" y1="150.64" x2="291.40" y2="150.64" stroke="#111" stroke-width="0.8" />
<line x1="310.55" y1="142.02" x2="310.55" y2="153.51" stroke="#111" stroke-width="0.8" />
<line x1="309.25" y1="142.02" x2="311.85" y2="142.02" stroke="#111" stroke-width="0.8" />
<line x1="309.25" y1="153.51" x2="311.85" y2="153.51" stroke="#111" stroke-width="0.8" />
<line x1="328.95" y1="142.02" x2="328.95" y2="153.51" stroke="#111" stroke-width="0.8" />
<line x1="327.65" y1="142.02" x2="330.25" y2="142.02" stroke="#111" stroke-width="0.8" />
<line x1="327.65" y1="153.51" x2="330.25" y2="153.51" stroke="#111" stroke-width="0.8" />
<circle cx="249.20" cy="141.45" r="1.1" fill="#111"/>
<circle cx="290.10" cy="147.77" r="1.1" fill="#111"/>
<circle cx="310.55" cy="147.77" r="1.1" fill="#111"/>
<circle cx="328.95" cy="147.77" r="1.1" fill="#111"/>
<text x="322.00" y="140.50" font-size="17" text-anchor="start" font-weight="normal" fill="#000"  stroke="#000" stroke-width="0.15">Pt. 3</text>
<line x1="256.60" y1="179.20" x2="265.80" y2="179.20" stroke="#111" stroke-width="0.85" />
<circle cx="261.20" cy="179.20" r="1.0" fill="#111"/>
<text x="267.40" y="181.10" font-size="5.6" text-anchor="start" font-weight="normal" fill="#111"  stroke="#111" stroke-width="0.2">control</text>
<line x1="256.60" y1="188.40" x2="265.80" y2="188.40" stroke="#222" stroke-width="0.9" stroke-dasharray="1.3 1" />
<polygon points="261.20,187.20 260.10,189.40 262.30,189.40" fill="#111"/>
<text x="267.40" y="190.30" font-size="5.9" text-anchor="start" font-weight="normal" fill="#111"  stroke="#111" stroke-width="0.2">0.33 <tspan font-size="5.4">µM</tspan> ATO</text>
<text x="234.20" y="207.80" font-size="14.2" text-anchor="start" font-weight="normal" fill="#000" transform="rotate(-90 234.20 207.80)"  stroke="#000" stroke-width="0.12">% viable cells</text>
<text x="254.30" y="221.70" font-size="14.3" text-anchor="start" font-weight="normal" fill="#000"  stroke="#000" stroke-width="0.15">DEX; log [nM]</text>
<line x1="404.70" y1="199.90" x2="404.70" y2="127.10" stroke="#111" stroke-width="0.95" />
<line x1="404.20" y1="199.40" x2="507.10" y2="199.40" stroke="#111" stroke-width="0.95" />
<line x1="402.70" y1="199.40" x2="404.70" y2="199.40" stroke="#111" stroke-width="0.855" />
<text x="402.35" y="201.49" font-size="5.8" text-anchor="end" font-weight="bold" fill="#111" textLength="2.45" lengthAdjust="spacingAndGlyphs" stroke="#111" stroke-width="0.2">0</text>
<line x1="402.70" y1="185.00" x2="404.70" y2="185.00" stroke="#111" stroke-width="0.855" />
<text x="402.35" y="187.09" font-size="5.8" text-anchor="end" font-weight="bold" fill="#111" textLength="4.90" lengthAdjust="spacingAndGlyphs" stroke="#111" stroke-width="0.2">25</text>
<line x1="402.70" y1="170.60" x2="404.70" y2="170.60" stroke="#111" stroke-width="0.855" />
<text x="402.35" y="172.69" font-size="5.8" text-anchor="end" font-weight="bold" fill="#111" textLength="4.90" lengthAdjust="spacingAndGlyphs" stroke="#111" stroke-width="0.2">50</text>
<line x1="402.70" y1="156.20" x2="404.70" y2="156.20" stroke="#111" stroke-width="0.855" />
<text x="402.35" y="158.29" font-size="5.8" text-anchor="end" font-weight="bold" fill="#111" textLength="4.90" lengthAdjust="spacingAndGlyphs" stroke="#111" stroke-width="0.2">75</text>
<line x1="402.70" y1="141.80" x2="404.70" y2="141.80" stroke="#111" stroke-width="0.855" />
<text x="402.35" y="143.89" font-size="5.8" text-anchor="end" font-weight="bold" fill="#111" textLength="7.35" lengthAdjust="spacingAndGlyphs" stroke="#111" stroke-width="0.2">100</text>
<line x1="402.70" y1="127.40" x2="404.70" y2="127.40" stroke="#111" stroke-width="0.855" />
<text x="402.35" y="129.49" font-size="5.8" text-anchor="end" font-weight="bold" fill="#111" textLength="7.35" lengthAdjust="spacingAndGlyphs" stroke="#111" stroke-width="0.2">125</text>
<line x1="404.70" y1="199.40" x2="404.70" y2="201.40" stroke="#111" stroke-width="0.855" />
<text x="404.70" y="207.40" font-size="5.8" text-anchor="middle" font-weight="bold" fill="#111" textLength="2.45" lengthAdjust="spacingAndGlyphs" stroke="#111" stroke-width="0.2">0</text>
<line x1="425.10" y1="199.40" x2="425.10" y2="201.40" stroke="#111" stroke-width="0.855" />
<text x="425.10" y="207.40" font-size="5.8" text-anchor="middle" font-weight="bold" fill="#111" textLength="2.45" lengthAdjust="spacingAndGlyphs" stroke="#111" stroke-width="0.2">1</text>
<line x1="445.50" y1="199.40" x2="445.50" y2="201.40" stroke="#111" stroke-width="0.855" />
<text x="445.50" y="207.40" font-size="5.8" text-anchor="middle" font-weight="bold" fill="#111" textLength="2.45" lengthAdjust="spacingAndGlyphs" stroke="#111" stroke-width="0.2">2</text>
<line x1="465.90" y1="199.40" x2="465.90" y2="201.40" stroke="#111" stroke-width="0.855" />
<text x="465.90" y="207.40" font-size="5.8" text-anchor="middle" font-weight="bold" fill="#111" textLength="2.45" lengthAdjust="spacingAndGlyphs" stroke="#111" stroke-width="0.2">3</text>
<line x1="486.30" y1="199.40" x2="486.30" y2="201.40" stroke="#111" stroke-width="0.855" />
<text x="486.30" y="207.40" font-size="5.8" text-anchor="middle" font-weight="bold" fill="#111" textLength="2.45" lengthAdjust="spacingAndGlyphs" stroke="#111" stroke-width="0.2">4</text>
<line x1="506.70" y1="199.40" x2="506.70" y2="201.40" stroke="#111" stroke-width="0.855" />
<text x="506.70" y="207.40" font-size="5.8" text-anchor="middle" font-weight="bold" fill="#111" textLength="2.45" lengthAdjust="spacingAndGlyphs" stroke="#111" stroke-width="0.2">5</text>
<polyline points="404.70,141.80 445.50,171.18 465.90,176.94 484.26,178.38" fill="none" stroke="#222" stroke-width="0.9" stroke-dasharray="1.3 1" stroke-linejoin="round"/>
<line x1="445.50" y1="168.30" x2="445.50" y2="174.06" stroke="#222" stroke-width="0.8" />
<line x1="444.20" y1="168.30" x2="446.80" y2="168.30" stroke="#222" stroke-width="0.8" />
<line x1="444.20" y1="174.06" x2="446.80" y2="174.06" stroke="#222" stroke-width="0.8" />
<line x1="465.90" y1="171.75" x2="465.90" y2="182.12" stroke="#222" stroke-width="0.8" />
<line x1="464.60" y1="171.75" x2="467.20" y2="171.75" stroke="#222" stroke-width="0.8" />
<line x1="464.60" y1="182.12" x2="467.20" y2="182.12" stroke="#222" stroke-width="0.8" />
<line x1="484.26" y1="176.65" x2="484.26" y2="180.10" stroke="#222" stroke-width="0.8" />
<line x1="482.96" y1="176.65" x2="485.56" y2="176.65" stroke="#222" stroke-width="0.8" />
<line x1="482.96" y1="180.10" x2="485.56" y2="180.10" stroke="#222" stroke-width="0.8" />
<polygon points="404.70,140.60 403.60,142.80 405.80,142.80" fill="#222"/>
<polygon points="445.50,169.98 444.40,172.18 446.60,172.18" fill="#222"/>
<polygon points="465.90,175.74 464.80,177.94 467.00,177.94" fill="#222"/>
<polygon points="484.26,177.18 483.16,179.38 485.36,179.38" fill="#222"/>
<polyline points="404.70,141.80 445.50,155.05 465.90,157.64 484.26,160.52" fill="none" stroke="#111" stroke-width="1.1" stroke-linejoin="round"/>
<line x1="465.90" y1="155.34" x2="465.90" y2="159.94" stroke="#111" stroke-width="0.8" />
<line x1="464.60" y1="155.34" x2="467.20" y2="155.34" stroke="#111" stroke-width="0.8" />
<line x1="464.60" y1="159.94" x2="467.20" y2="159.94" stroke="#111" stroke-width="0.8" />
<circle cx="404.70" cy="141.80" r="1.1" fill="#111"/>
<circle cx="445.50" cy="155.05" r="1.1" fill="#111"/>
<circle cx="465.90" cy="157.64" r="1.1" fill="#111"/>
<circle cx="484.26" cy="160.52" r="1.1" fill="#111"/>
<text x="484.00" y="140.60" font-size="17" text-anchor="start" font-weight="normal" fill="#000"  stroke="#000" stroke-width="0.15">Pt. 4</text>
<line x1="410.40" y1="182.50" x2="419.60" y2="182.50" stroke="#111" stroke-width="0.85" />
<circle cx="415.00" cy="182.50" r="1.0" fill="#111"/>
<text x="421.20" y="184.40" font-size="5.6" text-anchor="start" font-weight="normal" fill="#111"  stroke="#111" stroke-width="0.2">control</text>
<line x1="410.40" y1="191.50" x2="419.60" y2="191.50" stroke="#222" stroke-width="0.9" stroke-dasharray="1.3 1" />
<polygon points="415.00,190.30 413.90,192.50 416.10,192.50" fill="#111"/>
<text x="421.20" y="193.40" font-size="5.9" text-anchor="start" font-weight="normal" fill="#111"  stroke="#111" stroke-width="0.2">0.33 <tspan font-size="5.4">µM</tspan> ATO</text>
<text x="387.30" y="210.00" font-size="14.2" text-anchor="start" font-weight="normal" fill="#000" transform="rotate(-90 387.30 210.00)"  stroke="#000" stroke-width="0.12">% viable cells</text>
<text x="410.00" y="221.90" font-size="14.3" text-anchor="start" font-weight="normal" fill="#000"  stroke="#000" stroke-width="0.15">DEX; log [nM]</text>
<line x1="250.50" y1="311.70" x2="250.50" y2="239.09" stroke="#111" stroke-width="0.95" />
<line x1="250.00" y1="311.20" x2="351.90" y2="311.20" stroke="#111" stroke-width="0.95" />
<line x1="248.50" y1="311.20" x2="250.50" y2="311.20" stroke="#111" stroke-width="0.855" />
<text x="248.15" y="313.29" font-size="5.8" text-anchor="end" font-weight="bold" fill="#111" textLength="2.45" lengthAdjust="spacingAndGlyphs" stroke="#111" stroke-width="0.2">0</text>
<line x1="248.50" y1="296.84" x2="250.50" y2="296.84" stroke="#111" stroke-width="0.855" />
<text x="248.15" y="298.93" font-size="5.8" text-anchor="end" font-weight="bold" fill="#111" textLength="4.90" lengthAdjust="spacingAndGlyphs" stroke="#111" stroke-width="0.2">25</text>
<line x1="248.50" y1="282.47" x2="250.50" y2="282.47" stroke="#111" stroke-width="0.855" />
<text x="248.15" y="284.56" font-size="5.8" text-anchor="end" font-weight="bold" fill="#111" textLength="4.90" lengthAdjust="spacingAndGlyphs" stroke="#111" stroke-width="0.2">50</text>
<line x1="248.50" y1="268.11" x2="250.50" y2="268.11" stroke="#111" stroke-width="0.855" />
<text x="248.15" y="270.20" font-size="5.8" text-anchor="end" font-weight="bold" fill="#111" textLength="4.90" lengthAdjust="spacingAndGlyphs" stroke="#111" stroke-width="0.2">75</text>
<line x1="248.50" y1="253.75" x2="250.50" y2="253.75" stroke="#111" stroke-width="0.855" />
<text x="248.15" y="255.84" font-size="5.8" text-anchor="end" font-weight="bold" fill="#111" textLength="7.35" lengthAdjust="spacingAndGlyphs" stroke="#111" stroke-width="0.2">100</text>
<line x1="248.50" y1="239.39" x2="250.50" y2="239.39" stroke="#111" stroke-width="0.855" />
<text x="248.15" y="241.48" font-size="5.8" text-anchor="end" font-weight="bold" fill="#111" textLength="7.35" lengthAdjust="spacingAndGlyphs" stroke="#111" stroke-width="0.2">125</text>
<line x1="250.50" y1="311.20" x2="250.50" y2="313.20" stroke="#111" stroke-width="0.855" />
<text x="250.50" y="319.20" font-size="5.8" text-anchor="middle" font-weight="bold" fill="#111" textLength="2.45" lengthAdjust="spacingAndGlyphs" stroke="#111" stroke-width="0.2">0</text>
<line x1="270.70" y1="311.20" x2="270.70" y2="313.20" stroke="#111" stroke-width="0.855" />
<text x="270.70" y="319.20" font-size="5.8" text-anchor="middle" font-weight="bold" fill="#111" textLength="2.45" lengthAdjust="spacingAndGlyphs" stroke="#111" stroke-width="0.2">1</text>
<line x1="290.90" y1="311.20" x2="290.90" y2="313.20" stroke="#111" stroke-width="0.855" />
<text x="290.90" y="319.20" font-size="5.8" text-anchor="middle" font-weight="bold" fill="#111" textLength="2.45" lengthAdjust="spacingAndGlyphs" stroke="#111" stroke-width="0.2">2</text>
<line x1="311.10" y1="311.20" x2="311.10" y2="313.20" stroke="#111" stroke-width="0.855" />
<text x="311.10" y="319.20" font-size="5.8" text-anchor="middle" font-weight="bold" fill="#111" textLength="2.45" lengthAdjust="spacingAndGlyphs" stroke="#111" stroke-width="0.2">3</text>
<line x1="331.30" y1="311.20" x2="331.30" y2="313.20" stroke="#111" stroke-width="0.855" />
<text x="331.30" y="319.20" font-size="5.8" text-anchor="middle" font-weight="bold" fill="#111" textLength="2.45" lengthAdjust="spacingAndGlyphs" stroke="#111" stroke-width="0.2">4</text>
<line x1="351.50" y1="311.20" x2="351.50" y2="313.20" stroke="#111" stroke-width="0.855" />
<text x="351.50" y="319.20" font-size="5.8" text-anchor="middle" font-weight="bold" fill="#111" textLength="2.45" lengthAdjust="spacingAndGlyphs" stroke="#111" stroke-width="0.2">5</text>
<polyline points="250.50,253.75 290.90,270.12 311.10,287.65 329.28,300.57" fill="none" stroke="#222" stroke-width="0.9" stroke-dasharray="1.3 1" stroke-linejoin="round"/>
<line x1="290.90" y1="268.97" x2="290.90" y2="271.27" stroke="#222" stroke-width="0.8" />
<line x1="289.60" y1="268.97" x2="292.20" y2="268.97" stroke="#222" stroke-width="0.8" />
<line x1="289.60" y1="271.27" x2="292.20" y2="271.27" stroke="#222" stroke-width="0.8" />
<line x1="311.10" y1="284.77" x2="311.10" y2="290.52" stroke="#222" stroke-width="0.8" />
<line x1="309.80" y1="284.77" x2="312.40" y2="284.77" stroke="#222" stroke-width="0.8" />
<line x1="309.80" y1="290.52" x2="312.40" y2="290.52" stroke="#222" stroke-width="0.8" />
<line x1="329.28" y1="298.85" x2="329.28" y2="302.30" stroke="#222" stroke-width="0.8" />
<line x1="327.98" y1="298.85" x2="330.58" y2="298.85" stroke="#222" stroke-width="0.8" />
<line x1="327.98" y1="302.30" x2="330.58" y2="302.30" stroke="#222" stroke-width="0.8" />
<polygon points="250.50,252.55 249.40,254.75 251.60,254.75" fill="#222"/>
<polygon points="290.90,268.92 289.80,271.12 292.00,271.12" fill="#222"/>
<polygon points="311.10,286.45 310.00,288.65 312.20,288.65" fill="#222"/>
<polygon points="329.28,299.37 328.18,301.57 330.38,301.57" fill="#222"/>
<polyline points="250.50,253.75 290.90,288.51 311.10,295.11 329.28,303.16" fill="none" stroke="#111" stroke-width="1.15" stroke-linejoin="round"/>
<line x1="290.90" y1="287.36" x2="290.90" y2="289.66" stroke="#111" stroke-width="0.8" />
<line x1="289.60" y1="287.36" x2="292.20" y2="287.36" stroke="#111" stroke-width="0.8" />
<line x1="289.60" y1="289.66" x2="292.20" y2="289.66" stroke="#111" stroke-width="0.8" />
<line x1="329.28" y1="302.01" x2="329.28" y2="304.31" stroke="#111" stroke-width="0.8" />
<line x1="327.98" y1="302.01" x2="330.58" y2="302.01" stroke="#111" stroke-width="0.8" />
<line x1="327.98" y1="304.31" x2="330.58" y2="304.31" stroke="#111" stroke-width="0.8" />
<circle cx="250.50" cy="253.75" r="1.1" fill="#111"/>
<circle cx="290.90" cy="288.51" r="1.1" fill="#111"/>
<circle cx="311.10" cy="295.11" r="1.1" fill="#111"/>
<circle cx="329.28" cy="303.16" r="1.1" fill="#111"/>
<text x="321.00" y="258.90" font-size="17" text-anchor="start" font-weight="normal" fill="#000"  stroke="#000" stroke-width="0.15">Pt. 6</text>
<line x1="256.00" y1="295.20" x2="265.20" y2="295.20" stroke="#111" stroke-width="0.85" />
<circle cx="260.60" cy="295.20" r="1.0" fill="#111"/>
<text x="266.80" y="297.10" font-size="5.6" text-anchor="start" font-weight="normal" fill="#111"  stroke="#111" stroke-width="0.2">control</text>
<line x1="256.00" y1="303.90" x2="265.20" y2="303.90" stroke="#222" stroke-width="0.9" stroke-dasharray="1.3 1" />
<polygon points="260.60,302.70 259.50,304.90 261.70,304.90" fill="#111"/>
<text x="266.80" y="305.80" font-size="5.9" text-anchor="start" font-weight="normal" fill="#111"  stroke="#111" stroke-width="0.2">0.33 <tspan font-size="5.4">µM</tspan> ATO</text>
<text x="234.50" y="322.40" font-size="14.2" text-anchor="start" font-weight="normal" fill="#000" transform="rotate(-90 234.50 322.40)"  stroke="#000" stroke-width="0.12">% viable cells</text>
<text x="258.40" y="334.40" font-size="14.3" text-anchor="start" font-weight="normal" fill="#000"  stroke="#000" stroke-width="0.15">DEX; log [nM]</text>
<line x1="403.80" y1="309.90" x2="403.80" y2="237.29" stroke="#111" stroke-width="0.95" />
<line x1="403.30" y1="309.40" x2="505.70" y2="309.40" stroke="#111" stroke-width="0.95" />
<line x1="401.80" y1="309.40" x2="403.80" y2="309.40" stroke="#111" stroke-width="0.855" />
<text x="401.45" y="311.49" font-size="5.8" text-anchor="end" font-weight="bold" fill="#111" textLength="2.45" lengthAdjust="spacingAndGlyphs" stroke="#111" stroke-width="0.2">0</text>
<line x1="401.80" y1="295.04" x2="403.80" y2="295.04" stroke="#111" stroke-width="0.855" />
<text x="401.45" y="297.13" font-size="5.8" text-anchor="end" font-weight="bold" fill="#111" textLength="4.90" lengthAdjust="spacingAndGlyphs" stroke="#111" stroke-width="0.2">25</text>
<line x1="401.80" y1="280.67" x2="403.80" y2="280.67" stroke="#111" stroke-width="0.855" />
<text x="401.45" y="282.76" font-size="5.8" text-anchor="end" font-weight="bold" fill="#111" textLength="4.90" lengthAdjust="spacingAndGlyphs" stroke="#111" stroke-width="0.2">50</text>
<line x1="401.80" y1="266.31" x2="403.80" y2="266.31" stroke="#111" stroke-width="0.855" />
<text x="401.45" y="268.40" font-size="5.8" text-anchor="end" font-weight="bold" fill="#111" textLength="4.90" lengthAdjust="spacingAndGlyphs" stroke="#111" stroke-width="0.2">75</text>
<line x1="401.80" y1="251.95" x2="403.80" y2="251.95" stroke="#111" stroke-width="0.855" />
<text x="401.45" y="254.04" font-size="5.8" text-anchor="end" font-weight="bold" fill="#111" textLength="7.35" lengthAdjust="spacingAndGlyphs" stroke="#111" stroke-width="0.2">100</text>
<line x1="401.80" y1="237.59" x2="403.80" y2="237.59" stroke="#111" stroke-width="0.855" />
<text x="401.45" y="239.68" font-size="5.8" text-anchor="end" font-weight="bold" fill="#111" textLength="7.35" lengthAdjust="spacingAndGlyphs" stroke="#111" stroke-width="0.2">125</text>
<line x1="403.80" y1="309.40" x2="403.80" y2="311.40" stroke="#111" stroke-width="0.855" />
<text x="403.80" y="317.40" font-size="5.8" text-anchor="middle" font-weight="bold" fill="#111" textLength="2.45" lengthAdjust="spacingAndGlyphs" stroke="#111" stroke-width="0.2">0</text>
<line x1="424.10" y1="309.40" x2="424.10" y2="311.40" stroke="#111" stroke-width="0.855" />
<text x="424.10" y="317.40" font-size="5.8" text-anchor="middle" font-weight="bold" fill="#111" textLength="2.45" lengthAdjust="spacingAndGlyphs" stroke="#111" stroke-width="0.2">1</text>
<line x1="444.40" y1="309.40" x2="444.40" y2="311.40" stroke="#111" stroke-width="0.855" />
<text x="444.40" y="317.40" font-size="5.8" text-anchor="middle" font-weight="bold" fill="#111" textLength="2.45" lengthAdjust="spacingAndGlyphs" stroke="#111" stroke-width="0.2">2</text>
<line x1="464.70" y1="309.40" x2="464.70" y2="311.40" stroke="#111" stroke-width="0.855" />
<text x="464.70" y="317.40" font-size="5.8" text-anchor="middle" font-weight="bold" fill="#111" textLength="2.45" lengthAdjust="spacingAndGlyphs" stroke="#111" stroke-width="0.2">3</text>
<line x1="485.00" y1="309.40" x2="485.00" y2="311.40" stroke="#111" stroke-width="0.855" />
<text x="485.00" y="317.40" font-size="5.8" text-anchor="middle" font-weight="bold" fill="#111" textLength="2.45" lengthAdjust="spacingAndGlyphs" stroke="#111" stroke-width="0.2">4</text>
<line x1="505.30" y1="309.40" x2="505.30" y2="311.40" stroke="#111" stroke-width="0.855" />
<text x="505.30" y="317.40" font-size="5.8" text-anchor="middle" font-weight="bold" fill="#111" textLength="2.45" lengthAdjust="spacingAndGlyphs" stroke="#111" stroke-width="0.2">5</text>
<polyline points="403.80,251.95 444.40,281.54 464.70,289.87 482.97,285.67" fill="none" stroke="#222" stroke-width="0.9" stroke-dasharray="1.3 1" stroke-linejoin="round"/>
<line x1="444.40" y1="277.52" x2="444.40" y2="285.56" stroke="#222" stroke-width="0.8" />
<line x1="443.10" y1="277.52" x2="445.70" y2="277.52" stroke="#222" stroke-width="0.8" />
<line x1="443.10" y1="285.56" x2="445.70" y2="285.56" stroke="#222" stroke-width="0.8" />
<line x1="464.70" y1="286.42" x2="464.70" y2="293.31" stroke="#222" stroke-width="0.8" />
<line x1="463.40" y1="286.42" x2="466.00" y2="286.42" stroke="#222" stroke-width="0.8" />
<line x1="463.40" y1="293.31" x2="466.00" y2="293.31" stroke="#222" stroke-width="0.8" />
<line x1="482.97" y1="284.52" x2="482.97" y2="286.82" stroke="#222" stroke-width="0.8" />
<line x1="481.67" y1="284.52" x2="484.27" y2="284.52" stroke="#222" stroke-width="0.8" />
<line x1="481.67" y1="286.82" x2="484.27" y2="286.82" stroke="#222" stroke-width="0.8" />
<polygon points="403.80,250.75 402.70,252.95 404.90,252.95" fill="#222"/>
<polygon points="444.40,280.34 443.30,282.54 445.50,282.54" fill="#222"/>
<polygon points="464.70,288.67 463.60,290.87 465.80,290.87" fill="#222"/>
<polygon points="482.97,284.47 481.87,286.67 484.07,286.67" fill="#222"/>
<polyline points="403.80,251.95 444.40,276.08 464.70,295.73 482.97,304.92" fill="none" stroke="#111" stroke-width="1.05" stroke-linejoin="round"/>
<line x1="444.40" y1="271.48" x2="444.40" y2="280.67" stroke="#111" stroke-width="0.8" />
<line x1="443.10" y1="271.48" x2="445.70" y2="271.48" stroke="#111" stroke-width="0.8" />
<line x1="443.10" y1="280.67" x2="445.70" y2="280.67" stroke="#111" stroke-width="0.8" />
<line x1="464.70" y1="292.28" x2="464.70" y2="299.17" stroke="#111" stroke-width="0.8" />
<line x1="463.40" y1="292.28" x2="466.00" y2="292.28" stroke="#111" stroke-width="0.8" />
<line x1="463.40" y1="299.17" x2="466.00" y2="299.17" stroke="#111" stroke-width="0.8" />
<circle cx="403.80" cy="251.95" r="1.1" fill="#111"/>
<circle cx="444.40" cy="276.08" r="1.1" fill="#111"/>
<circle cx="464.70" cy="295.73" r="1.1" fill="#111"/>
<circle cx="482.97" cy="304.92" r="1.1" fill="#111"/>
<text x="470.40" y="258.90" font-size="16.7" text-anchor="start" font-weight="normal" fill="#000"  stroke="#000" stroke-width="0.15">Pt. 7</text>
<line x1="407.70" y1="292.90" x2="416.90" y2="292.90" stroke="#111" stroke-width="0.85" />
<circle cx="412.30" cy="292.90" r="1.0" fill="#111"/>
<text x="418.50" y="294.80" font-size="5.6" text-anchor="start" font-weight="normal" fill="#111"  stroke="#111" stroke-width="0.2">control</text>
<line x1="407.70" y1="302.00" x2="416.90" y2="302.00" stroke="#222" stroke-width="0.9" stroke-dasharray="1.3 1" />
<polygon points="412.30,300.80 411.20,303.00 413.40,303.00" fill="#111"/>
<text x="418.50" y="303.90" font-size="5.9" text-anchor="start" font-weight="normal" fill="#111"  stroke="#111" stroke-width="0.2">0.33 <tspan font-size="5.4">µM</tspan> ATO</text>
<text x="387.90" y="321.00" font-size="14.2" text-anchor="start" font-weight="normal" fill="#000" transform="rotate(-90 387.90 321.00)"  stroke="#000" stroke-width="0.12">% viable cells</text>
<text x="410.20" y="333.00" font-size="14.3" text-anchor="start" font-weight="normal" fill="#000"  stroke="#000" stroke-width="0.15">DEX; log [nM]</text>
<line x1="103.30" y1="309.00" x2="103.30" y2="236.39" stroke="#111" stroke-width="0.95" />
<line x1="102.80" y1="308.50" x2="204.60" y2="308.50" stroke="#111" stroke-width="0.95" />
<line x1="101.30" y1="308.50" x2="103.30" y2="308.50" stroke="#111" stroke-width="0.855" />
<text x="100.95" y="310.59" font-size="5.8" text-anchor="end" font-weight="bold" fill="#111" textLength="2.45" lengthAdjust="spacingAndGlyphs" stroke="#111" stroke-width="0.2">0</text>
<line x1="101.30" y1="294.14" x2="103.30" y2="294.14" stroke="#111" stroke-width="0.855" />
<text x="100.95" y="296.23" font-size="5.8" text-anchor="end" font-weight="bold" fill="#111" textLength="4.90" lengthAdjust="spacingAndGlyphs" stroke="#111" stroke-width="0.2">25</text>
<line x1="101.30" y1="279.77" x2="103.30" y2="279.77" stroke="#111" stroke-width="0.855" />
<text x="100.95" y="281.86" font-size="5.8" text-anchor="end" font-weight="bold" fill="#111" textLength="4.90" lengthAdjust="spacingAndGlyphs" stroke="#111" stroke-width="0.2">50</text>
<line x1="101.30" y1="265.41" x2="103.30" y2="265.41" stroke="#111" stroke-width="0.855" />
<text x="100.95" y="267.50" font-size="5.8" text-anchor="end" font-weight="bold" fill="#111" textLength="4.90" lengthAdjust="spacingAndGlyphs" stroke="#111" stroke-width="0.2">75</text>
<line x1="101.30" y1="251.05" x2="103.30" y2="251.05" stroke="#111" stroke-width="0.855" />
<text x="100.95" y="253.14" font-size="5.8" text-anchor="end" font-weight="bold" fill="#111" textLength="7.35" lengthAdjust="spacingAndGlyphs" stroke="#111" stroke-width="0.2">100</text>
<line x1="101.30" y1="236.69" x2="103.30" y2="236.69" stroke="#111" stroke-width="0.855" />
<text x="100.95" y="238.78" font-size="5.8" text-anchor="end" font-weight="bold" fill="#111" textLength="7.35" lengthAdjust="spacingAndGlyphs" stroke="#111" stroke-width="0.2">125</text>
<line x1="103.30" y1="308.50" x2="103.30" y2="310.50" stroke="#111" stroke-width="0.855" />
<text x="103.30" y="316.50" font-size="5.8" text-anchor="middle" font-weight="bold" fill="#111" textLength="2.45" lengthAdjust="spacingAndGlyphs" stroke="#111" stroke-width="0.2">0</text>
<line x1="123.48" y1="308.50" x2="123.48" y2="310.50" stroke="#111" stroke-width="0.855" />
<text x="123.48" y="316.50" font-size="5.8" text-anchor="middle" font-weight="bold" fill="#111" textLength="2.45" lengthAdjust="spacingAndGlyphs" stroke="#111" stroke-width="0.2">1</text>
<line x1="143.66" y1="308.50" x2="143.66" y2="310.50" stroke="#111" stroke-width="0.855" />
<text x="143.66" y="316.50" font-size="5.8" text-anchor="middle" font-weight="bold" fill="#111" textLength="2.45" lengthAdjust="spacingAndGlyphs" stroke="#111" stroke-width="0.2">2</text>
<line x1="163.84" y1="308.50" x2="163.84" y2="310.50" stroke="#111" stroke-width="0.855" />
<text x="163.84" y="316.50" font-size="5.8" text-anchor="middle" font-weight="bold" fill="#111" textLength="2.45" lengthAdjust="spacingAndGlyphs" stroke="#111" stroke-width="0.2">3</text>
<line x1="184.02" y1="308.50" x2="184.02" y2="310.50" stroke="#111" stroke-width="0.855" />
<text x="184.02" y="316.50" font-size="5.8" text-anchor="middle" font-weight="bold" fill="#111" textLength="2.45" lengthAdjust="spacingAndGlyphs" stroke="#111" stroke-width="0.2">4</text>
<line x1="204.20" y1="308.50" x2="204.20" y2="310.50" stroke="#111" stroke-width="0.855" />
<text x="204.20" y="316.50" font-size="5.8" text-anchor="middle" font-weight="bold" fill="#111" textLength="2.45" lengthAdjust="spacingAndGlyphs" stroke="#111" stroke-width="0.2">5</text>
<polyline points="103.30,251.05 143.66,267.88 163.84,287.99 182.00,276.33" fill="none" stroke="#222" stroke-width="0.9" stroke-dasharray="1.3 1" stroke-linejoin="round"/>
<line x1="143.66" y1="262.14" x2="143.66" y2="273.63" stroke="#222" stroke-width="0.8" />
<line x1="142.36" y1="262.14" x2="144.96" y2="262.14" stroke="#222" stroke-width="0.8" />
<line x1="142.36" y1="273.63" x2="144.96" y2="273.63" stroke="#222" stroke-width="0.8" />
<line x1="163.84" y1="283.39" x2="163.84" y2="292.59" stroke="#222" stroke-width="0.8" />
<line x1="162.54" y1="283.39" x2="165.14" y2="283.39" stroke="#222" stroke-width="0.8" />
<line x1="162.54" y1="292.59" x2="165.14" y2="292.59" stroke="#222" stroke-width="0.8" />
<line x1="182.00" y1="273.46" x2="182.00" y2="279.20" stroke="#222" stroke-width="0.8" />
<line x1="180.70" y1="273.46" x2="183.30" y2="273.46" stroke="#222" stroke-width="0.8" />
<line x1="180.70" y1="279.20" x2="183.30" y2="279.20" stroke="#222" stroke-width="0.8" />
<polygon points="103.30,249.85 102.20,252.05 104.40,252.05" fill="#222"/>
<polygon points="143.66,266.68 142.56,268.88 144.76,268.88" fill="#222"/>
<polygon points="163.84,286.79 162.74,288.99 164.94,288.99" fill="#222"/>
<polygon points="182.00,275.13 180.90,277.33 183.10,277.33" fill="#222"/>
<polyline points="103.30,251.05 143.66,270.58 163.84,282.65 182.00,297.18" fill="none" stroke="#111" stroke-width="1.0" stroke-linejoin="round"/>
<line x1="143.66" y1="265.99" x2="143.66" y2="275.18" stroke="#111" stroke-width="0.8" />
<line x1="142.36" y1="265.99" x2="144.96" y2="265.99" stroke="#111" stroke-width="0.8" />
<line x1="142.36" y1="275.18" x2="144.96" y2="275.18" stroke="#111" stroke-width="0.8" />
<line x1="163.84" y1="278.05" x2="163.84" y2="287.24" stroke="#111" stroke-width="0.8" />
<line x1="162.54" y1="278.05" x2="165.14" y2="278.05" stroke="#111" stroke-width="0.8" />
<line x1="162.54" y1="287.24" x2="165.14" y2="287.24" stroke="#111" stroke-width="0.8" />
<line x1="182.00" y1="293.74" x2="182.00" y2="300.63" stroke="#111" stroke-width="0.8" />
<line x1="180.70" y1="293.74" x2="183.30" y2="293.74" stroke="#111" stroke-width="0.8" />
<line x1="180.70" y1="300.63" x2="183.30" y2="300.63" stroke="#111" stroke-width="0.8" />
<circle cx="103.30" cy="251.05" r="1.1" fill="#111"/>
<circle cx="143.66" cy="270.58" r="1.1" fill="#111"/>
<circle cx="163.84" cy="282.65" r="1.1" fill="#111"/>
<circle cx="182.00" cy="297.18" r="1.1" fill="#111"/>
<text x="170.50" y="259.00" font-size="17" text-anchor="start" font-weight="normal" fill="#000"  stroke="#000" stroke-width="0.15">Pt. 5</text>
<line x1="108.80" y1="292.50" x2="118.00" y2="292.50" stroke="#111" stroke-width="0.85" />
<circle cx="113.40" cy="292.50" r="1.0" fill="#111"/>
<text x="119.60" y="294.40" font-size="5.6" text-anchor="start" font-weight="normal" fill="#111"  stroke="#111" stroke-width="0.2">control</text>
<line x1="108.80" y1="301.60" x2="118.00" y2="301.60" stroke="#222" stroke-width="0.9" stroke-dasharray="1.3 1" />
<polygon points="113.40,300.40 112.30,302.60 114.50,302.60" fill="#111"/>
<text x="119.60" y="303.50" font-size="5.9" text-anchor="start" font-weight="normal" fill="#111"  stroke="#111" stroke-width="0.2">0.33 <tspan font-size="5.4">µM</tspan> ATO</text>
<text x="88.70" y="319.30" font-size="14.2" text-anchor="start" font-weight="normal" fill="#000" transform="rotate(-90 88.70 319.30)"  stroke="#000" stroke-width="0.12">% viable cells</text>
<text x="107.80" y="332.60" font-size="14.3" text-anchor="start" font-weight="normal" fill="#000"  stroke="#000" stroke-width="0.15">DEX; log [nM]</text>
</g>
<defs><filter id="b" x="0" y="0" width="520" height="339" filterUnits="userSpaceOnUse"><feGaussianBlur stdDeviation="0.28"/></filter></defs>
</svg>
</body></html>
